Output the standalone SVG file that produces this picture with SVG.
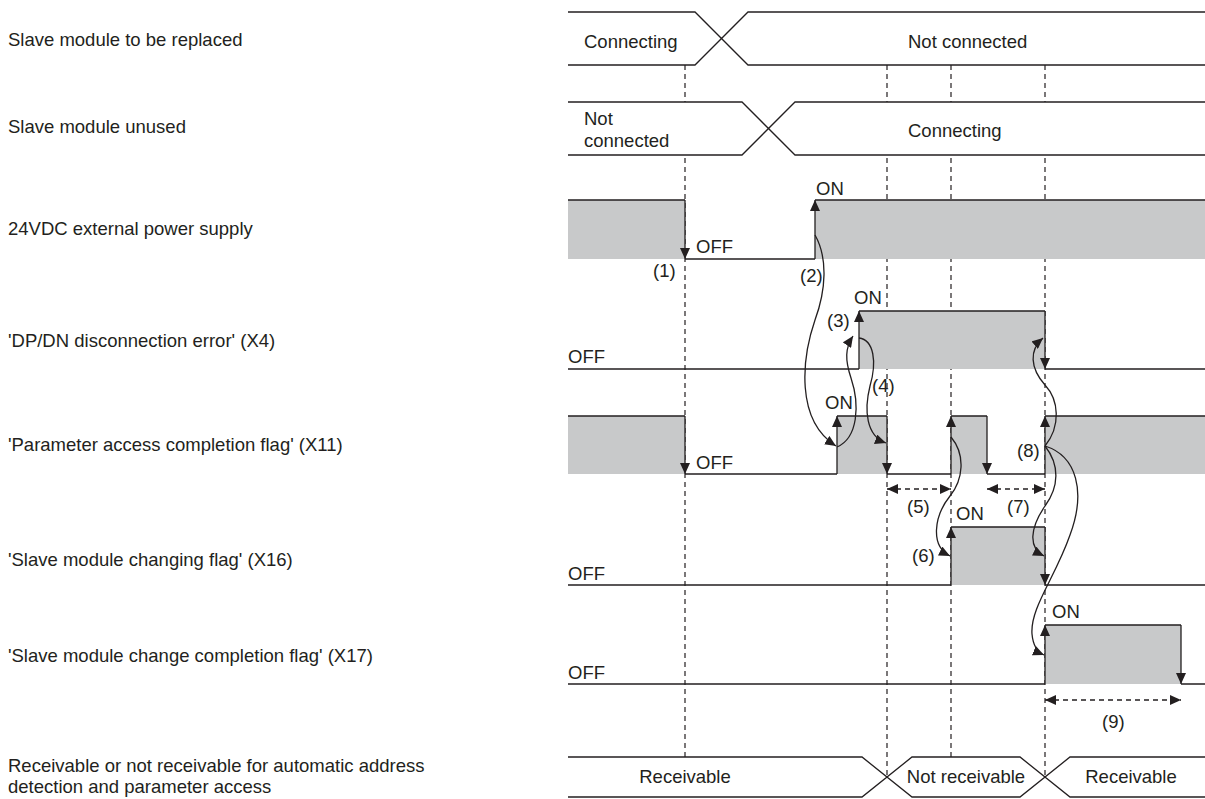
<svg xmlns="http://www.w3.org/2000/svg" width="1205" height="799" viewBox="0 0 1205 799">
<defs>
<style>
text{font-family:"Liberation Sans",Arial,sans-serif;font-size:18.5px;fill:#231f20}
.sig{fill:none;stroke:#231f20;stroke-width:1.3}
.g{fill:#c8c9ca;stroke:none}
.dash{fill:none;stroke:#231f20;stroke-width:1.2;stroke-dasharray:5,4}
.arr{fill:none;stroke:#231f20;stroke-width:1.3;marker-end:url(#ah)}
.crv{fill:none;stroke:#231f20;stroke-width:1.3;marker-end:url(#ah)}
.dbl{fill:none;stroke:#231f20;stroke-width:1.3;stroke-dasharray:5,4;marker-start:url(#ahs);marker-end:url(#ah)}
</style>
<marker id="ah" viewBox="0 0 11 10" refX="11" refY="5" markerWidth="11" markerHeight="10" markerUnits="userSpaceOnUse" orient="auto"><path d="M0,0 L11,5 L0,10 z" fill="#231f20"/></marker>
<marker id="ahs" viewBox="0 0 11 10" refX="11" refY="5" markerWidth="11" markerHeight="10" markerUnits="userSpaceOnUse" orient="auto-start-reverse"><path d="M0,0 L11,5 L0,10 z" fill="#231f20"/></marker>
</defs>
<rect width="1205" height="799" fill="#fff"/>

<g id="labels">
<text x="8" y="46">Slave module to be replaced</text>
<text x="8" y="133">Slave module unused</text>
<text x="8" y="235">24VDC external power supply</text>
<text x="8" y="347">'DP/DN disconnection error' (X4)</text>
<text x="8" y="451">'Parameter access completion flag' (X11)</text>
<text x="8" y="566">'Slave module changing flag' (X16)</text>
<text x="8" y="662">'Slave module change completion flag' (X17)</text>
<text x="8" y="772">Receivable or not receivable for automatic address</text>
<text x="8" y="793">detection and parameter access</text>
</g>

<g id="guides">
<path class="dash" d="M685,65 V102 M685,158 V757"/>
<path class="dash" d="M887,65 V102 M887,158 V777"/>
<path class="dash" d="M951,65 V102 M951,158 V757"/>
<path class="dash" d="M1045,65 V102 M1045,158 V777"/>
</g>

<g id="row-replaced">
<path class="sig" d="M568,12 H695 L748,65 H1205 M568,65 H695 L748,12 H1205"/>
<text x="584" y="48">Connecting</text>
<text x="908" y="48">Not connected</text>
</g>

<g id="row-unused">
<path class="sig" d="M568,102 H742 L795,155 H1205 M568,155 H742 L795,102 H1205"/>
<text x="584" y="125">Not</text>
<text x="584" y="147">connected</text>
<text x="908" y="137">Connecting</text>
</g>

<g id="row-24v">
<rect class="g" x="568" y="200" width="117" height="59"/>
<rect class="g" x="815" y="200" width="390" height="59"/>
<path class="sig" d="M568,200 H685 M685,259 H815 M815,200 H1205"/>
<path class="arr" d="M685,200 V259"/>
<path class="arr" d="M815,259 V200"/>
<text x="696" y="253">OFF</text>
<text x="816" y="195">ON</text>
<text x="653" y="277">(1)</text>
<text x="800" y="282">(2)</text>
</g>

<g id="row-x4">
<rect class="g" x="859" y="311" width="186" height="58"/>
<path class="sig" d="M568,369 H859 M859,311 H1045 M1045,369 H1205"/>
<path class="arr" d="M859,369 V311"/>
<path class="arr" d="M1045,311 V369"/>
<text x="568" y="363">OFF</text>
<text x="854" y="304">ON</text>
<text x="827" y="327">(3)</text>
<text x="872" y="392">(4)</text>
</g>

<g id="row-x11">
<rect class="g" x="568" y="416" width="117" height="58"/>
<rect class="g" x="837" y="416" width="50" height="58"/>
<rect class="g" x="951" y="416" width="36" height="58"/>
<rect class="g" x="1045" y="416" width="160" height="58"/>
<path class="sig" d="M568,416 H685 M685,474 H837 M837,416 H887 M887,474 H951 M951,416 H987 M987,474 H1045 M1045,416 H1205"/>
<path class="arr" d="M685,416 V474"/>
<path class="arr" d="M837,474 V416"/>
<path class="arr" d="M887,416 V474"/>
<path class="arr" d="M951,474 V416"/>
<path class="arr" d="M987,416 V474"/>
<path class="arr" d="M1045,474 V416"/>
<text x="696" y="469">OFF</text>
<text x="825" y="409">ON</text>
<text x="1017" y="457">(8)</text>
<text x="907" y="513">(5)</text>
<text x="1007" y="513">(7)</text>
</g>

<g id="row-x16">
<rect class="g" x="951" y="527" width="94" height="58"/>
<path class="sig" d="M568,585 H951 M951,527 H1045 M1045,585 H1205"/>
<path class="arr" d="M951,585 V527"/>
<path class="arr" d="M1045,527 V585"/>
<text x="568" y="580">OFF</text>
<text x="956" y="520">ON</text>
<text x="912" y="562">(6)</text>
</g>

<g id="row-x17">
<rect class="g" x="1045" y="625" width="136" height="59"/>
<path class="sig" d="M568,684 H1045 M1045,625 H1181 M1181,684 H1205"/>
<path class="arr" d="M1045,684 V625"/>
<path class="arr" d="M1181,625 V684"/>
<text x="568" y="679">OFF</text>
<text x="1052" y="618">ON</text>
<text x="1102" y="728">(9)</text>
</g>

<g id="row-receivable">
<path class="sig" d="M568,757 H862 L912,797 H1020 L1070,757 H1205 M568,797 H862 L912,757 H1020 L1070,797 H1205"/>
<text x="685" y="783" text-anchor="middle">Receivable</text>
<text x="966" y="783" text-anchor="middle">Not receivable</text>
<text x="1131" y="783" text-anchor="middle">Receivable</text>
</g>

<g id="connectors">
<path class="crv" d="M815,235 C828,258 826,290 815,320 C802,358 795,420 836,446"/>
<path class="crv" d="M837,447 C858,438 860,405 851,378 C845,360 845,348 853,336"/>
<path class="crv" d="M859,338 C874,340 877,362 870,386 C864,410 866,436 886,443"/>
<path class="crv" d="M951,437 C966,455 963,480 950,496 C934,516 930,546 950,556"/>
<path class="crv" d="M1045,446 C1061,426 1059,400 1045,385 C1030,368 1029,350 1043,338"/>
<path class="crv" d="M1045,446 C1060,465 1059,487 1045,506 C1030,528 1028,548 1044,556"/>
<path class="crv" d="M1045,446 C1077,456 1086,492 1070,535 C1055,578 1030,608 1032,634 C1033,645 1037,652 1044,655"/>
<path class="dbl" d="M887,489 H951"/>
<path class="dbl" d="M987,489 H1045"/>
<path class="dbl" d="M1045,700 H1181"/>
</g>
</svg>
